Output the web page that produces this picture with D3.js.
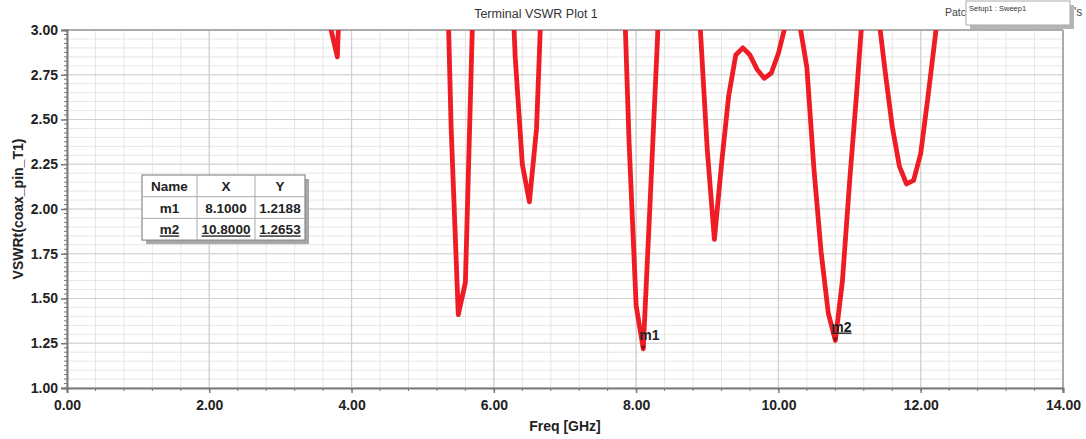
<!DOCTYPE html>
<html>
<head>
<meta charset="utf-8">
<script src="https://cdn.jsdelivr.net/npm/d3@7"></script>
<style>
  html, body { margin: 0; padding: 0; background: #fff; }
  svg { display: block; font-family: "Liberation Sans", Arial, sans-serif; }
</style>
</head>
<body>
<svg id="chart" width="1086" height="439"></svg>
<script>
// ---------------- data ----------------
const freqGHz = [3.5, 3.6, 3.7, 3.8, 3.9, 4.0, 5.0, 5.2, 5.3, 5.4, 5.5, 5.6, 5.7, 5.8, 6.0, 6.2, 6.3, 6.4, 6.5, 6.6, 6.7,
  6.9, 7.4, 7.7, 7.8, 7.9, 8.0, 8.1, 8.2, 8.3, 8.4, 8.6, 8.8, 8.9, 9.0, 9.1, 9.2, 9.3, 9.4, 9.5, 9.6, 9.7, 9.8, 9.9,
  10.0, 10.1, 10.2, 10.3, 10.4, 10.5, 10.6, 10.7, 10.8, 10.9, 11.0, 11.1, 11.2, 11.3, 11.4, 11.5, 11.6, 11.7, 11.8,
  11.9, 12.0, 12.1, 12.2, 12.3, 12.5, 13.0, 14.0];
const vswr = [3.6, 3.3, 3.02, 2.85, 3.95, 5.0, 6.0, 5.0, 4.0, 2.45, 1.41, 1.59, 3.05, 4.5, 5.5, 3.8, 2.85, 2.25, 2.04, 2.45, 3.5,
  5.0, 6.0, 4.5, 3.6, 2.38, 1.46, 1.2188, 2.07, 2.95, 4.0, 5.0, 4.0, 3.02, 2.33, 1.83, 2.25, 2.63, 2.86, 2.90, 2.86, 2.78, 2.73, 2.76,
  2.87, 3.03, 3.3, 3.03, 2.79, 2.22, 1.76, 1.42, 1.2653, 1.6, 2.15, 2.65, 3.2, 3.4, 3.1, 2.77, 2.46, 2.24, 2.14,
  2.16, 2.31, 2.62, 2.95, 3.3, 4.0, 5.0, 5.5];

const xTickValues = [0, 2, 4, 6, 8, 10, 12, 14];
const yTickValues = [1.00, 1.25, 1.50, 1.75, 2.00, 2.25, 2.50, 2.75, 3.00];

const markerNames = ["m1", "m2"];
const markerX = [8.1, 10.8];
const markerY = [1.2188, 1.2653];

const titleText = "Terminal VSWR Plot 1";
const xLabel = "Freq [GHz]";
const yLabel = "VSWRt(coax_pin_T1)";
const legendTitleLeft = "Patc";
const legendTitleRight = "'s";
const legendEntry = "Setup1 : Sweep1";

// ---------------- layout ----------------
const W = 1086, H = 439;
const m = { left: 67, top: 30, right: 23, bottom: 51 };
const iw = W - m.left - m.right, ih = H - m.top - m.bottom;

const svg = d3.select("#chart");
const x = d3.scaleLinear().domain([0, 14]).range([m.left, m.left + iw]);
const y = d3.scaleLinear().domain([1, 3]).range([m.top + ih, m.top]);

// grid
const grid = svg.append("g");
const xMinor = d3.range(0, 14.0001, 0.4);
const yMinor = d3.range(1, 3.0001, 0.05);
grid.selectAll("line.xm").data(xMinor).join("line")
  .attr("x1", d => x(d)).attr("x2", d => x(d))
  .attr("y1", m.top).attr("y2", m.top + ih)
  .attr("stroke", "#e6e6e6").attr("stroke-width", 1);
grid.selectAll("line.ym").data(yMinor).join("line")
  .attr("y1", d => y(d)).attr("y2", d => y(d))
  .attr("x1", m.left).attr("x2", m.left + iw)
  .attr("stroke", "#e6e6e6").attr("stroke-width", 1);
grid.selectAll("line.xM").data(xTickValues).join("line")
  .attr("x1", d => x(d)).attr("x2", d => x(d))
  .attr("y1", m.top).attr("y2", m.top + ih)
  .attr("stroke", "#d0d0d0").attr("stroke-width", 1.2);
grid.selectAll("line.yM").data(yTickValues).join("line")
  .attr("y1", d => y(d)).attr("y2", d => y(d))
  .attr("x1", m.left).attr("x2", m.left + iw)
  .attr("stroke", "#d0d0d0").attr("stroke-width", 1.2);

// frame (top and right)
svg.append("line").attr("x1", m.left).attr("x2", m.left + iw).attr("y1", m.top).attr("y2", m.top)
  .attr("stroke", "#9a9a9a").attr("stroke-width", 1.5);
svg.append("line").attr("x1", m.left + iw).attr("x2", m.left + iw).attr("y1", m.top).attr("y2", m.top + ih)
  .attr("stroke", "#9a9a9a").attr("stroke-width", 1.5);

// minor axis ticks
const minorTicks = svg.append("g").attr("stroke", "#777").attr("stroke-width", 1);
minorTicks.selectAll("line.yt").data(d3.range(1, 3.0001, 0.025)).join("line")
  .attr("x1", m.left - 3).attr("x2", m.left).attr("y1", d => y(d)).attr("y2", d => y(d));
minorTicks.selectAll("line.xt").data(xMinor).join("line")
  .attr("y1", m.top + ih).attr("y2", m.top + ih + 3).attr("x1", d => x(d)).attr("x2", d => x(d));

// axes
const xAxis = svg.append("g").attr("transform", `translate(0,${m.top + ih})`)
  .call(d3.axisBottom(x).tickValues(xTickValues).tickFormat(d3.format(".2f")).tickSize(5).tickPadding(7));
const yAxis = svg.append("g").attr("transform", `translate(${m.left},0)`)
  .call(d3.axisLeft(y).tickValues(yTickValues).tickFormat(d3.format(".2f")).tickSize(6).tickPadding(3));
[xAxis, yAxis].forEach(a => {
  a.select(".domain").attr("stroke", "#7a7a7a").attr("stroke-width", 2);
  a.selectAll(".tick line").attr("stroke", "#7a7a7a").attr("stroke-width", 1.5);
  a.selectAll("text").attr("fill", "#222").attr("font-size", 14).attr("font-weight", "bold")
    .attr("font-family", "Liberation Sans, Arial, sans-serif");
});

// clip
svg.append("clipPath").attr("id", "clip").append("rect")
  .attr("x", m.left).attr("y", m.top).attr("width", iw).attr("height", ih);

// curve
const pts = freqGHz.map((f, i) => [f, vswr[i]]);
const line = d3.line().x(d => x(d[0])).y(d => y(d[1]));
svg.append("path").datum(pts)
  .attr("clip-path", "url(#clip)")
  .attr("d", line)
  .attr("fill", "none")
  .attr("stroke", "#ee1c25")
  .attr("stroke-width", 4.8)
  .attr("stroke-linejoin", "round")
  .attr("stroke-linecap", "round");

// markers
markerNames.forEach((n, i) => {
  const px = x(markerX[i]), py = y(markerY[i]);
  svg.append("path")
    .attr("d", `M${px - 2.5},${py - 3} L${px + 2.5},${py - 3} L${px},${py + 1} Z`)
    .attr("fill", "#7a1010");
  const t = svg.append("text").attr("x", px - 4).attr("y", py - 9)
    .attr("font-size", 14).attr("font-weight", "bold").attr("fill", "#222")
    .text(n);
  if (i === 1) t.attr("text-decoration", "underline");
});

// titles
svg.append("text").attr("x", 536).attr("y", 18).attr("text-anchor", "middle")
  .attr("font-size", 12.5).attr("fill", "#333").text(titleText);
svg.append("text").attr("x", m.left + iw / 2).attr("y", 431).attr("text-anchor", "middle")
  .attr("font-size", 14).attr("font-weight", "bold").attr("fill", "#222").text(xLabel);
svg.append("text").attr("transform", `translate(23,${m.top + ih / 2}) rotate(-90)`)
  .attr("text-anchor", "middle").attr("font-size", 14).attr("font-weight", "bold").attr("fill", "#222")
  .text(yLabel);

// marker table
const tx = 142, ty = 175, colW = [55, 58, 50], rowH = 21.7;
const tableW = d3.sum(colW), tableH = rowH * 3;
const tbl = svg.append("g");
tbl.append("rect").attr("x", tx + 4).attr("y", ty + 4).attr("width", tableW).attr("height", tableH).attr("fill", "#a8a8a8");
tbl.append("rect").attr("x", tx).attr("y", ty).attr("width", tableW).attr("height", tableH)
  .attr("fill", "#fff").attr("stroke", "#8a8a8a").attr("stroke-width", 1.2);
let cx = tx;
colW.slice(0, -1).forEach(w => {
  cx += w;
  tbl.append("line").attr("x1", cx).attr("x2", cx).attr("y1", ty).attr("y2", ty + tableH).attr("stroke", "#aaa");
});
[1, 2].forEach(r => tbl.append("line").attr("x1", tx).attr("x2", tx + tableW)
  .attr("y1", ty + r * rowH).attr("y2", ty + r * rowH).attr("stroke", "#aaa"));
const colCenters = [tx + colW[0] / 2, tx + colW[0] + colW[1] / 2, tx + colW[0] + colW[1] + colW[2] / 2];
const rows = [["Name", "X", "Y"]].concat(markerNames.map((n, i) => [n, markerX[i].toFixed(4), markerY[i].toFixed(4)]));
rows.forEach((row, r) => {
  row.forEach((c, k) => {
    const t = tbl.append("text").attr("x", colCenters[k]).attr("y", ty + r * rowH + 16)
      .attr("text-anchor", "middle").attr("font-size", 13.5).attr("font-weight", "bold").attr("fill", "#222").text(c);
    if (r === 2) t.attr("text-decoration", "underline");
  });
});

// legend (top right)
svg.append("text").attr("x", 945).attr("y", 16).attr("font-size", 10.5).attr("fill", "#444").text(legendTitleLeft);
svg.append("text").attr("x", 1074).attr("y", 16).attr("font-size", 12).attr("fill", "#444").text(legendTitleRight);
svg.append("rect").attr("x", 970).attr("y", 5).attr("width", 104).attr("height", 24).attr("fill", "#b5b5b5");
svg.append("rect").attr("x", 966).attr("y", 1).attr("width", 104).attr("height", 24)
  .attr("fill", "#fff").attr("stroke", "#aaa").attr("stroke-width", 1);
svg.append("text").attr("x", 969).attr("y", 11).attr("font-size", 7.5).attr("fill", "#333").text(legendEntry);
</script>
</body>
</html>
